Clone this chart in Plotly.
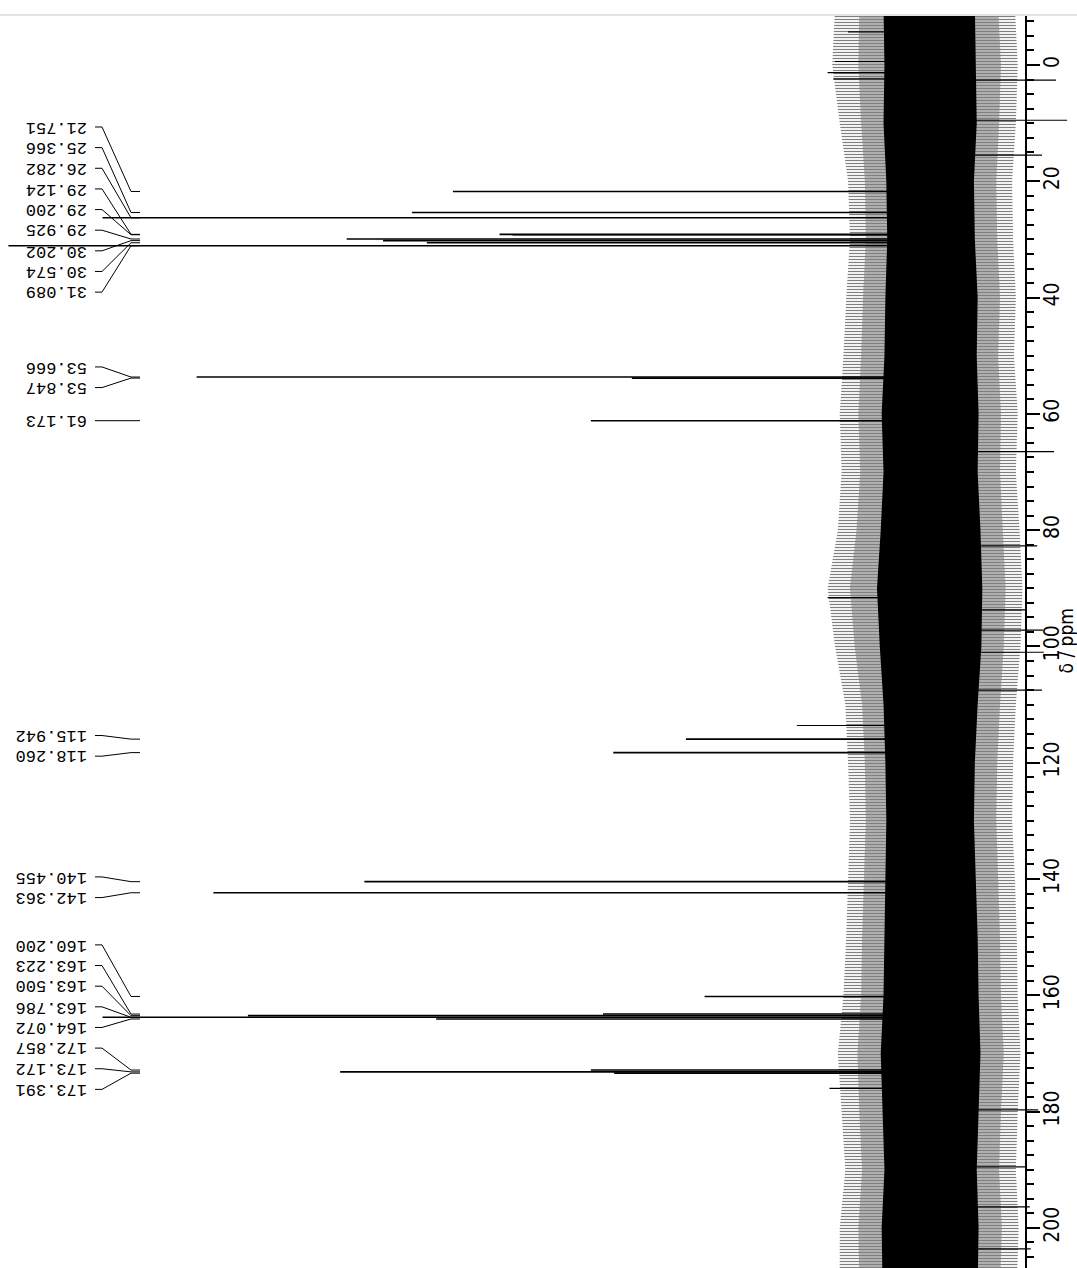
import plotly.graph_objects as go

W, H = 1077, 1268

# ---------------- data ----------------
peak_ppm = [21.751, 25.366, 26.282, 29.124, 29.200, 29.925, 30.202, 30.574, 31.089,
            53.666, 53.847, 61.173, 115.942, 118.260, 140.455, 142.363,
            160.200, 163.223, 163.500, 163.786, 164.072, 172.857, 173.172, 173.391]
peak_int = [51.4, 55.8, 89.0, 46.4, 45.0, 62.8, 58.9, 54.2, 99.1,
            78.9, 32.2, 36.6, 26.4, 34.2, 60.9, 77.1,
            24.4, 35.3, 73.4, 89.0, 53.2, 36.6, 63.5, 34.1]
peak_labels = ["21.751", "25.366", "26.282", "29.124", "29.200", "29.925", "30.202", "30.574", "31.089",
               "53.666", "53.847", "61.173", "115.942", "118.260", "140.455", "142.363",
               "160.200", "163.223", "163.500", "163.786", "164.072", "172.857", "173.172", "173.391"]
label_group_sizes = [9, 2, 1, 2, 2, 8]

# noise envelope (intensity units) read every 10 ppm
noise_ppm = [-10, 0, 10, 20, 30, 40, 50, 60, 70, 80, 90, 100, 110, 120, 130, 140, 150, 160, 170, 180, 190, 200, 210]
fringe_left = [10.4, 10.7, 9.9, 9.0, 8.8, 9.2, 9.5, 9.9, 9.7, 10.1, 11.2, 10.4, 9.3, 9.0, 8.8, 9.0, 9.2, 9.5, 10.1, 9.7, 9.3, 9.9, 9.9]
dense_left = [7.8, 7.9, 7.6, 7.2, 7.1, 7.4, 7.6, 7.9, 7.7, 8.1, 8.8, 8.3, 7.5, 7.2, 7.1, 7.3, 7.5, 7.6, 8.0, 7.8, 7.5, 7.9, 7.8]
core_left = [5.2, 5.1, 5.2, 4.9, 4.8, 5.0, 5.1, 5.4, 5.2, 5.5, 5.9, 5.6, 5.2, 5.0, 4.9, 5.0, 5.1, 5.2, 5.5, 5.3, 5.1, 5.4, 5.3]
core_right = [-4.6, -4.7, -4.8, -4.5, -4.6, -4.9, -4.8, -5.0, -4.9, -5.2, -5.4, -5.3, -4.9, -4.6, -4.5, -4.7, -4.9, -5.0, -5.2, -5.0, -4.8, -5.0, -4.9]
dense_right = [-7.1, -7.4, -7.2, -6.9, -7.0, -7.3, -7.1, -7.4, -7.3, -7.6, -7.9, -7.7, -7.3, -7.0, -6.9, -7.1, -7.3, -7.4, -7.7, -7.4, -7.2, -7.5, -7.3]
fringe_right = [-8.9, -9.2, -9.0, -8.6, -8.7, -9.0, -8.8, -9.2, -9.0, -9.4, -9.7, -9.5, -9.0, -8.7, -8.6, -8.9, -9.1, -9.2, -9.5, -9.2, -9.0, -9.3, -9.1]

# prominent individual noise spikes
spike_ppm = [-5.7, -0.6, 1.3, 2.4, 2.6, 9.5, 15.5, 66.5, 82.7, 91.6, 93.7, 97.2, 101.0, 107.5, 113.6, 176.0, 179.7, 189.5, 196.4, 203.6]
spike_int = [9.0, 10.4, 11.2, 10.6, -13.3, -14.5, -11.8, -13.1, -11.3, 11.2, -10.2, -11.9, -12.0, -11.8, 14.5, 11.0, -11.4, -10.2, -10.5, -10.6]

tick_vals = list(range(0, 201, 20))

# ---------------- layout helpers ----------------
PPM_TOP, PPM_BOT = -8.6, 206.9
X_LEFT, X_RIGHT = 100.0, -15.56
BASE_PX = 932.0
PX_PER_INT = 9.32


def px2int(px):
    return (BASE_PX - px) / PX_PER_INT


group_label_start = [10.66, 51.93, 61.173, 115.32, 139.64, 151.33]
LABEL_STEP = 3.55

fig = go.Figure()


def band(left, right, **kw):
    xs = list(left) + list(reversed(right)) + [left[0]]
    ys = list(noise_ppm) + list(reversed(noise_ppm)) + [noise_ppm[0]]
    fig.add_trace(go.Scatter(x=xs, y=ys, mode="lines", fill="toself", line=dict(width=0),
                             hoverinfo="skip", showlegend=False, **kw))


band(fringe_left, fringe_right, fillcolor="rgba(0,0,0,0)",
     fillpattern=dict(shape="-", size=3, solidity=0.4, fgcolor="black", bgcolor="white"))
band(dense_left, dense_right, fillcolor="rgba(0,0,0,0)",
     fillpattern=dict(shape="-", size=3, solidity=0.75, fgcolor="black", bgcolor="white"))
band(core_left, core_right, fillcolor="black")

# noise spikes
sx, sy = [], []
for p, v in zip(spike_ppm, spike_int):
    sx += [0, v, None]
    sy += [p, p, None]
fig.add_trace(go.Scatter(x=sx, y=sy, mode="lines", line=dict(color="black", width=1.2),
                         hoverinfo="skip", showlegend=False))

# peaks
px_, py_ = [], []
for p, v in zip(peak_ppm, peak_int):
    px_ += [0, v, None]
    py_ += [p, p, None]
fig.add_trace(go.Scatter(x=px_, y=py_, mode="lines", line=dict(color="black", width=1.6),
                         hoverinfo="skip", showlegend=False))

# labels + leaders
lx, ly = [], []
annotations = []
idx = 0
for g, n in enumerate(label_group_sizes):
    for k in range(n):
        lab_ppm = group_label_start[g] + k * LABEL_STEP
        pk = peak_ppm[idx]
        lx += [px2int(95), px2int(102), px2int(131), px2int(140), None]
        ly += [lab_ppm, lab_ppm, pk, pk, None]
        annotations.append(dict(x=px2int(89), y=lab_ppm, xref="x", yref="y", text=peak_labels[idx],
                                showarrow=False, textangle=180, xanchor="right", yanchor="middle",
                                font=dict(family="Liberation Mono, DejaVu Sans Mono, monospace", size=17, color="black")))
        idx += 1
fig.add_trace(go.Scatter(x=lx, y=ly, mode="lines", line=dict(color="black", width=1),
                         hoverinfo="skip", showlegend=False))

axis_font = dict(family="Liberation Sans Narrow, DejaVu Sans Condensed, Arial Narrow, Liberation Sans, sans-serif",
                 size=21, color="black")

# axis title
annotations.append(dict(x=1065 / W, y=0.5, xref="paper", yref="paper", text="δ / ppm",
                        showarrow=False, textangle=-90, xanchor="center", yanchor="middle",
                        font=dict(family=axis_font["family"], size=19, color="black")))

fig.update_layout(
    width=W, height=H, autosize=False,
    margin=dict(l=0, r=0, t=15, b=0, pad=0),
    paper_bgcolor="white", plot_bgcolor="white",
    showlegend=False,
    annotations=annotations,
    xaxis=dict(range=[X_LEFT, X_RIGHT], visible=False, domain=[0, 1]),
    yaxis=dict(range=[PPM_BOT, PPM_TOP], anchor="free", position=1026 / W, side="right",
               showline=True, linecolor="black", linewidth=1.5, mirror=False,
               ticks="outside", ticklen=13, tickwidth=1.5, tickcolor="black",
               tickmode="array", tickvals=tick_vals, ticktext=[str(t) for t in tick_vals],
               tickangle=-90, tickfont=axis_font, ticklabelstandoff=-6,
               showgrid=False, zeroline=False,
               minor=dict(dtick=2.5, tick0=0, ticklen=7, tickwidth=1.5, tickcolor="black",
                          ticks="outside", showgrid=False),
               automargin=False),
    shapes=[dict(type="line", xref="paper", yref="paper", x0=0, x1=1, y0=1.0, y1=1.0,
                 line=dict(color="#e4e4e4", width=2))],
)

fig.write_html("out.html")
